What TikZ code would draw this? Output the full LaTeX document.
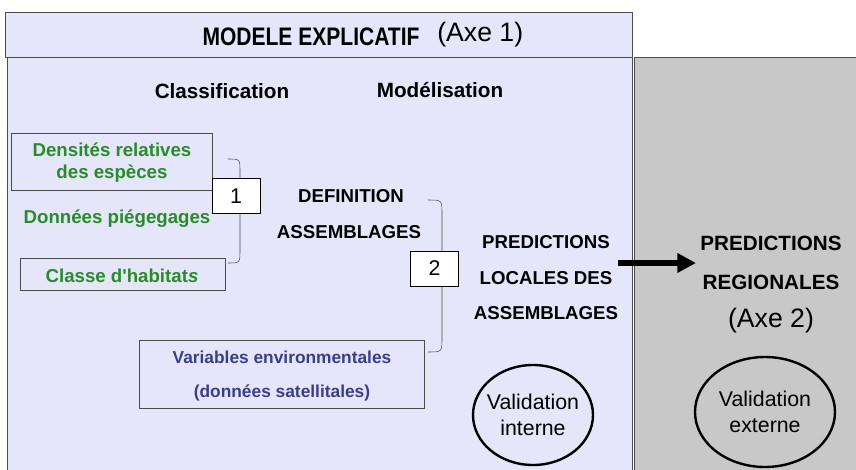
\documentclass[tikz,border=0pt]{standalone}
\usepackage{fontspec}
\setmainfont{Liberation Sans}
\usetikzlibrary{arrows.meta}
\usetikzlibrary{shapes.geometric}
\definecolor{lavande}{RGB}{230,230,250}
\definecolor{grisfond}{RGB}{200,200,200}
\definecolor{vertdonnee}{RGB}{40,140,40}
\definecolor{bleuvar}{RGB}{60,60,140}
\tikzset{
	titre/.style = {font=\fontsize{16.5}{18}\selectfont, inner sep=0pt},
	gras/.style = {font=\fontsize{14}{16}\selectfont\bfseries, inner sep=0pt},% texte gras noir
	grand/.style = {font=\fontsize{15.5}{17}\selectfont\bfseries, inner sep=0pt},% titres de colonne
	vert/.style = {gras, text=vertdonnee, align=center},% donnees (vert)
	source/.style = {draw=black!70, fill=lavande, inner sep=0pt},% cadre d'une source
	numero/.style = {draw=black, fill=white, font=\fontsize{16}{18}\selectfont,
		inner sep=0pt, minimum width=36pt, minimum height=26pt},% etape 1, 2
	valid/.style = {align=center, inner sep=0pt,
		font=\fontsize{16}{20}\selectfont},% validation
	contour/.style = {draw=black, line width=1.8pt},% ellipse de validation
	accol/.style = {draw=black!70, thin}% accolade
}

\begin{document}
\begin{tikzpicture}[x=0.75pt,y=-0.75pt]
	\useasboundingbox (0,0) rectangle (856,470);
	% fonds
	\fill[white] (0,0) rectangle (856,470);
	\draw[black!70, fill=lavande] (5,12) rectangle (632,57);
	\draw[black!70, fill=lavande] (7,57) rectangle (632,472);
	\draw[black!70, fill=grisfond] (634,57) rectangle (858,472);
	% titres
	\node[titre] (mod) at (311,37) {\scalebox{0.83}[1]{\fontsize{19}{21}\selectfont\bfseries MODELE EXPLICATIF}};
	\node[titre, font=\fontsize{20}{22}\selectfont, anchor=west] (axe1) at (437,35) {(Axe 1)};
	\node[grand] (classif) at (222,91) {Classification};
	\node[grand] (model) at (440,90) {Modélisation};
	% sources
	\node[source, minimum width=151pt, minimum height=43pt] (dens) at (111.5,161.5) {};
	\node[vert] at (112,150) {Densités relatives};
	\node[vert] at (112,174) {des espèces};
	\node[vert] (pieg) at (117,219) {Données piégegages};
	\node[source, minimum width=154pt, minimum height=24pt] (habit) at (122.5,274) {};
	\node[vert] at (122,276) {Classe d\textquotesingle habitat\textit{s}};
	\node[source, minimum width=214pt, minimum height=51pt] (envir) at (282,374) {};
	\node[gras, text=bleuvar, font=\fontsize{13}{15}\selectfont\bfseries] at (282,357) {Variables environmentales};
	\node[gras, text=bleuvar, font=\fontsize{13}{15}\selectfont\bfseries] at (282,393) {(données satellitales)};
	% accolades
	\coordinate (a1h) at (228,159);
	\coordinate (a1b) at (228,263);
	\draw[accol] (a1h) .. controls (240,159) .. (240,172) -- (240,250) .. controls (240,263) .. (a1b);
	\coordinate (a2h) at (428,200);
	\coordinate (a2b) at (428,352);
	\draw[accol] (a2h) .. controls (442,200) .. (442,214) -- (442,338) .. controls (442,352) .. (a2b);
	\node[numero] (n1) at (236,196) {1};
	\node[numero] (n2) at (434.5,268.5) {2};
	% assemblages
	\node[gras] (def) at (351,196) {DEFINITION};
	\node[gras] (ass) at (349,232) {ASSEMBLAGES};
	\node[gras] (pred) at (546,242) {PREDICTIONS};
	\node[gras] (loc) at (546,278) {LOCALES DES};
	\node[gras] (pass) at (546,313) {ASSEMBLAGES};
	% axe 2
	\node[grand] (preg) at (771,243) {PREDICTIONS};
	\node[grand] (reg) at (771,282) {REGIONALES};
	\node[titre, font=\fontsize{20}{22}\selectfont] (axe2) at (771,321) {(Axe 2)};
	\coordinate (fd) at (618,263);
	\coordinate (fa) at (696,263);
	\draw[line width=4.5pt, -{Triangle[length=14pt, width=14pt]}] (fd) -- (fa);
	% validations
	\node[valid] (vint) at (533,415) {Validation\\interne};
	\draw[contour] (vint) ellipse [x radius=60, y radius=50];
	\node[valid] (vext) at (765,412) {Validation\\externe};
	\draw[contour] (vext) ellipse [x radius=70, y radius=55];
\end{tikzpicture}
\end{document}
